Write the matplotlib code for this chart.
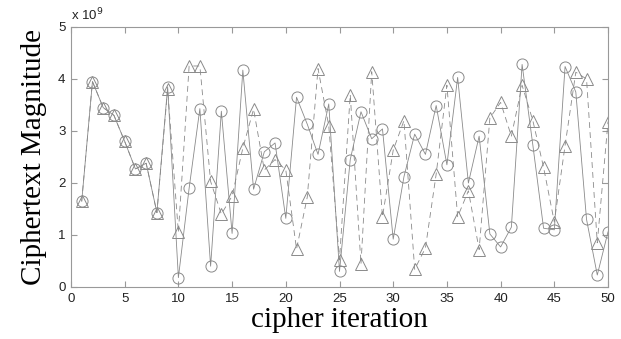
import matplotlib
matplotlib.use("Agg")
import matplotlib.pyplot as plt
from matplotlib.ticker import FuncFormatter, MultipleLocator
import numpy as np

iterations = list(range(1, 51))
circle_vals = [1.65, 3.95, 3.45, 3.30, 2.80, 2.27, 2.38, 1.43, 3.85, 0.18,
               1.90, 3.43, 0.40, 3.38, 1.03, 4.17, 1.88, 2.60, 2.77, 1.32,
               3.65, 3.13, 2.55, 3.52, 0.30, 2.45, 3.37, 2.85, 3.04, 0.92,
               2.12, 2.94, 2.55, 3.49, 2.35, 4.03, 2.00, 2.90, 1.02, 0.77,
               1.15, 4.28, 2.73, 1.13, 1.10, 4.24, 3.75, 1.30, 0.23, 1.06]
triangle_vals = [1.65, 3.95, 3.45, 3.30, 2.80, 2.27, 2.38, 1.43, 3.80, 1.05,
                 4.25, 4.25, 2.03, 1.40, 1.75, 2.67, 3.42, 2.25, 2.45, 2.25,
                 0.73, 1.73, 4.20, 3.10, 0.52, 3.70, 0.44, 4.14, 1.35, 2.63,
                 3.20, 0.34, 0.75, 2.17, 3.88, 1.35, 1.85, 0.72, 3.25, 3.55,
                 2.90, 3.88, 3.20, 2.30, 1.25, 2.72, 4.13, 4.00, 0.85, 3.18]
scale = 1e9
circle_y = np.array(circle_vals) * scale
triangle_y = np.array(triangle_vals) * scale

gray = "#8a8a8a"
fig = plt.figure(figsize=(6.21, 3.39), dpi=100)
ax = fig.add_axes([0.1143, 0.1534, 0.8648, 0.7670])

ax.plot(iterations, triangle_y, linestyle=(0, (7, 5)), color=gray, linewidth=0.6,
        marker="^", markersize=8, markerfacecolor="none", markeredgecolor=gray,
        markeredgewidth=0.7)
ax.plot(iterations, circle_y, linestyle="-", color=gray, linewidth=0.6,
        marker="o", markersize=8, markerfacecolor="none", markeredgecolor=gray,
        markeredgewidth=0.7)

ax.set_xlim(0, 50)
ax.set_ylim(0, 5 * scale)
ax.xaxis.set_major_locator(MultipleLocator(5))
ax.yaxis.set_major_locator(MultipleLocator(1 * scale))
ax.yaxis.set_major_formatter(FuncFormatter(lambda v, p: f"{v/scale:.0f}"))

for s in ax.spines.values():
    s.set_color("#999999")
    s.set_linewidth(0.8)
ax.tick_params(direction="in", top=True, right=True, length=4, color="#999999",
               labelsize=9.5, labelcolor="#222222", pad=4)
for lab in ax.get_xticklabels() + ax.get_yticklabels():
    lab.set_fontfamily("Liberation Sans")

ax.text(0.0, 1.015, r"x 10$^{9}$", transform=ax.transAxes, fontsize=9.5,
        family="Liberation Sans", color="#222222", ha="left", va="bottom")

ax.set_xlabel("cipher iteration", family="Liberation Serif", fontsize=21, labelpad=2)
ax.set_ylabel("Ciphertext Magnitude", family="Liberation Serif", fontsize=21, labelpad=8)

fig.savefig("out.png", dpi=100)
